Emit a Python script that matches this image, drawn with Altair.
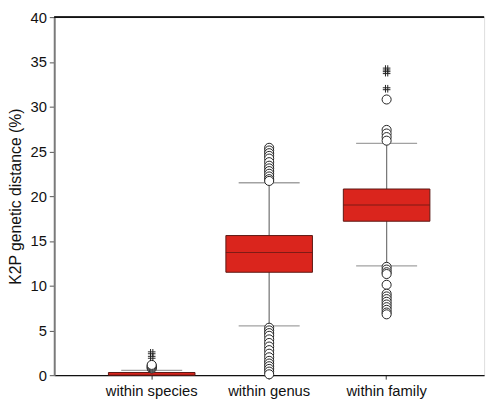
import altair as alt
import pandas as pd

categories = ["within species", "within genus", "within family"]
q1 = [0.0, 11.5, 17.2]
median = [0.1, 13.7, 19.0]
q3 = [0.3, 15.6, 20.8]
whisker_low = [0.0, 5.5, 12.2]
whisker_high = [0.55, 21.5, 25.9]

outliers_species = [0.75, 0.85, 0.95, 1.05, 1.15]
outliers_genus = [25.4, 25.1, 24.8, 24.5, 24.2, 23.8, 23.4, 23.1, 22.8, 22.5, 22.2, 21.9, 21.7,
                  5.3, 5.0, 4.7, 4.4, 4.0, 3.6, 3.2, 2.8, 2.4, 2.0, 1.6, 1.3, 1.0, 0.7, 0.4, 0.1]
outliers_family = [30.8, 27.4, 27.0, 26.6, 26.2,
                   12.1, 11.8, 11.5, 11.3, 10.1, 9.1, 8.8, 8.5, 8.2, 7.9, 7.6, 7.3, 7.0, 6.8]

extremes_species = [2.0, 2.5]
extremes_genus = []
extremes_family = [32.0, 33.8, 34.2]

FONT = "Liberation Sans"
RED = "#da251d"
DARK = "#5a1712"
GRAY = "#7a7a7a"

box = pd.DataFrame({"cat": categories, "q1": q1, "med": median, "q3": q3,
                    "lo": whisker_low, "hi": whisker_high})

out_rows = []
for c, vals in zip(categories, [outliers_species, outliers_genus, outliers_family]):
    out_rows += [{"cat": c, "v": v} for v in vals]
outliers = pd.DataFrame(out_rows)

ext_rows = []
for c, vals in zip(categories, [extremes_species, extremes_genus, extremes_family]):
    ext_rows += [{"cat": c, "v": v} for v in vals]
extremes = pd.DataFrame(ext_rows)

xscale = alt.Scale(domain=categories, paddingInner=0.3, paddingOuter=0.48)
yscale = alt.Scale(domain=[0, 40], nice=False)

xenc = alt.X("cat:N", scale=xscale, sort=categories, title=None,
             axis=alt.Axis(labelAngle=0, labelFont=FONT, labelFontSize=15, labelColor="#111",
                           tickSize=4, tickColor="#333", labelPadding=5,
                           domainColor="#111", domainWidth=1.2))
yaxis = alt.Axis(values=list(range(0, 41, 5)), grid=False, labelFont=FONT, labelFontSize=15,
                 labelColor="#111", tickSize=5, tickColor="#555", labelPadding=3,
                 domainColor=GRAY, domainWidth=2, title="K2P genetic distance (%)",
                 titleFont=FONT, titleFontSize=16, titleFontWeight="normal",
                 titleColor="#111", titlePadding=7)

base = alt.Chart(box)

whisk = base.mark_rule(color=GRAY, strokeWidth=1.3).encode(
    x=xenc, y=alt.Y("lo:Q", scale=yscale, axis=yaxis), y2="hi:Q")
caps_hi = base.mark_tick(color=GRAY, size=62, thickness=1.3, orient="horizontal").encode(
    x=xenc, y=alt.Y("hi:Q", scale=yscale))
caps_lo = base.transform_filter("datum.lo > 0").mark_tick(
    color=GRAY, size=62, thickness=1.3, orient="horizontal").encode(
    x=xenc, y=alt.Y("lo:Q", scale=yscale))
bars = base.mark_bar(color=RED, stroke=DARK, strokeWidth=1, size=88).encode(
    x=xenc, y=alt.Y("q1:Q", scale=yscale), y2="q3:Q")
meds = base.transform_filter("datum.q3 - datum.q1 > 1").mark_tick(
    color=DARK, size=88, thickness=1, orient="horizontal").encode(
    x=xenc, y=alt.Y("med:Q", scale=yscale))

pts = alt.Chart(outliers).mark_point(shape="circle", size=85, filled=True, fill="white",
                                     stroke="#222", strokeWidth=1, opacity=1).encode(
    x=xenc, y=alt.Y("v:Q", scale=yscale))

hash_path = "M-0.3,-1V1M0.3,-1V1M-1,-0.25H1M-1,0.25H1"
ext = alt.Chart(extremes).mark_point(shape=hash_path, size=60, filled=False,
                                     stroke="#222", strokeWidth=1, opacity=1).encode(
    x=xenc, y=alt.Y("v:Q", scale=yscale))

top = alt.Chart(box).mark_rule(color="#111", strokeWidth=1.2).encode(
    y=alt.datum(40, scale=yscale))

chart = alt.layer(whisk, caps_hi, caps_lo, bars, meds, pts, ext, top).properties(
    width=437, height=364,
    autosize=alt.AutoSizeParams(type="none"),
    padding={"left": 47, "top": 6, "right": 6, "bottom": 26},
).configure_view(stroke=GRAY, strokeWidth=2).configure(background="white")

chart.save("out.html", embed_options={"renderer": "svg", "actions": False})
